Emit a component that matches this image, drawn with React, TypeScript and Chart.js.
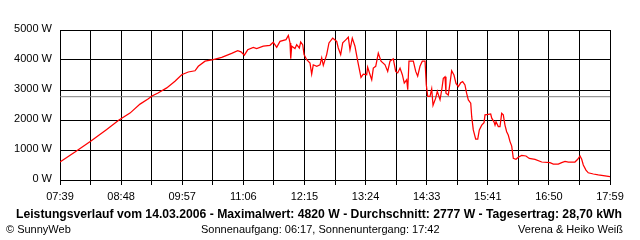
import { useEffect, useRef } from "react";
import { Chart, registerables } from "chart.js";

Chart.register(...registerables);

// Time axis: minutes after 07:39, spanning to 17:59
const spanMinutes = 620;
const gridDivisions = 18;
const tickLabels = ["07:39", "08:48", "09:57", "11:06", "12:15", "13:24", "14:33", "15:41", "16:50", "17:59"];

const minutes = [
  0, 16.9, 34.9, 51.9, 66.5, 78.9, 90.2, 99.2, 103.7, 110.5,
  120.3, 129.6, 137.2, 144.6, 152.2, 155.9, 163.5, 172.8, 182.3, 193.5,
  200.3, 204, 207.8, 211.6, 217.9, 221.7, 229.2, 236.7, 240.4, 244.3,
  248, 254.8, 257.4, 259.3, 260.1, 261.2, 264.9, 266.8, 269.8, 271.3,
  273.6, 275.1, 278.1, 281.8, 283.7, 285.5, 289.4, 293.1, 295, 296.8,
  300.6, 303.2, 307.4, 311.9, 313.7, 316.4, 318.7, 322.4, 325, 326.9,
  329.5, 332.5, 335.6, 339.3, 341.9, 345.7, 346.8, 349.5, 351.4, 353.2,
  355.9, 358.8, 361.9, 366.4, 369.4, 372, 375.7, 378.4, 380.7, 383.3,
  385.9, 388.1, 390.8, 392, 393.4, 398.3, 401, 403.2, 405.8, 408.4,
  411.5, 412.9, 414.5, 417.1, 419, 420.5, 423.5, 425.3, 428.4, 430.3,
  432.1, 434, 435.1, 437.7, 439.6, 441.5, 444.1, 446.4, 449, 451.7,
  453.9, 456.5, 458.4, 460.3, 463, 464.1, 465.9, 468.6, 470.9, 472.7,
  475.4, 478, 479.1, 482.8, 485.5, 486.7, 489.2, 490.4, 491.5, 494.1,
  496, 497.9, 499.7, 501.6, 503.5, 505.3, 507.3, 509.2, 511, 514,
  516.6, 520.4, 525.3, 529, 535.5, 543, 552.4, 556.1, 561.7, 565.5,
  569.3, 573, 580.5, 583.6, 586.2, 588.1, 589.9, 592.9, 595.5, 601.2,
  606.8, 614.4, 620,
];

const watts = [
  600, 930, 1300, 1670, 2000, 2230, 2530, 2700, 2800, 2900,
  3070, 3290, 3510, 3600, 3640, 3790, 3960, 4010, 4090, 4220,
  4310, 4270, 4160, 4340, 4420, 4380, 4460, 4490, 4590, 4420,
  4620, 4680, 4820, 4570, 4040, 4460, 4380, 4510, 4400, 4600,
  4510, 4180, 4010, 3900, 3530, 3840, 3790, 3840, 4070, 3820,
  4180, 4570, 4730, 4620, 4400, 4180, 4570, 4680, 4760, 4340,
  4730, 4460, 3960, 3420, 3530, 3510, 3760, 3510, 3340, 3730,
  3790, 4230, 3960, 3840, 3620, 3960, 4040, 3620, 3570, 3730,
  3510, 3230, 3340, 3010, 3960, 3960, 3620, 3460, 3790, 3960,
  3960, 3180, 2790, 2790, 3040, 2490, 2730, 2960, 2680, 3000,
  3390, 3440, 2890, 2830, 3220, 3640, 3500, 3220, 3110, 3240,
  3280, 3170, 2890, 2670, 2560, 2110, 1670, 1360, 1360, 1670,
  1830, 1910, 2170, 2190, 2200, 2060, 1940, 1830, 1940, 1780,
  1780, 2220, 2170, 1830, 1610, 1500, 1280, 1130, 720, 690,
  760, 820, 800, 720, 690, 600, 580, 530, 530, 580,
  620, 600, 600, 690, 800, 690, 500, 330, 240, 200,
  170, 140, 110,
];

const averageW = 2777;
const yMax = 5000;
const yStep = 1000;

const titleText =
  "Leistungsverlauf vom 14.03.2006 - Maximalwert: 4820 W - Durchschnitt: 2777 W - Tagesertrag: 28,70 kWh";
const footerLeft = "\u00A9 SunnyWeb";
const footerCenter = "Sonnenaufgang: 06:17, Sonnenuntergang: 17:42";
const footerRight = "Verena & Heiko Wei\u00DF";

const FONT = '"Liberation Sans", Arial, sans-serif';

const footerPlugin = {
  id: "footerTexts",
  afterDraw(chart: any) {
    const ctx = chart.ctx as CanvasRenderingContext2D;
    ctx.save();
    ctx.fillStyle = "#000";
    ctx.textBaseline = "alphabetic";
    ctx.textAlign = "left";
    ctx.font = `bold 11px ${FONT}`;
    const w = ctx.measureText(titleText).width;
    const size = (11 * 607) / w;
    ctx.font = `bold ${size}px ${FONT}`;
    ctx.fillText(titleText, 16, 218);
    ctx.font = `11px ${FONT}`;
    ctx.fillText(footerLeft, 6, 233);
    ctx.fillText(footerCenter, 201, 233);
    ctx.textAlign = "right";
    ctx.fillText(footerRight, 623, 233);
    ctx.restore();
  },
};

export default function App() {
  const ref = useRef<HTMLCanvasElement | null>(null);

  useEffect(() => {
    document.body.style.margin = "0";
    const canvas = ref.current;
    if (!canvas) return;
    const points = minutes.map((m, i) => ({ x: m, y: watts[i] }));
    const avgPoints = [
      { x: 0, y: averageW },
      { x: spanMinutes, y: averageW },
    ];
    const chart = new Chart(canvas, {
      type: "line",
      data: {
        datasets: [
          {
            data: points,
            borderColor: "#ff0000",
            borderWidth: 1.25,
            pointRadius: 0,
            tension: 0,
            fill: false,
            order: 0,
          },
          {
            data: avgPoints,
            borderColor: "#808080",
            borderWidth: 1,
            pointRadius: 0,
            fill: false,
            order: 1,
          },
        ],
      },
      options: {
        responsive: false,
        animation: false,
        events: [],
        layout: { padding: { top: 30, right: 30, left: 0, bottom: 0 } },
        plugins: {
          legend: { display: false },
          tooltip: { enabled: false },
          title: { display: false },
        },
        scales: {
          x: {
            type: "linear",
            min: 0,
            max: spanMinutes,
            afterBuildTicks: (scale: any) => {
              const arr = [];
              for (let i = 0; i <= gridDivisions; i++) arr.push({ value: (i * spanMinutes) / gridDivisions });
              scale.ticks = arr;
            },
            afterFit: (scale: any) => {
              scale.height = 60;
            },
            grid: {
              color: "#000",
              lineWidth: 1,
              drawTicks: true,
              tickLength: 5,
              tickColor: "#000",
            },
            border: { color: "#000", width: 1 },
            ticks: {
              autoSkip: false,
              maxRotation: 0,
              minRotation: 0,
              padding: 5,
              color: "#000",
              font: { family: FONT, size: 11 },
              callback: (_v: any, index: number) => (index % 2 === 0 ? tickLabels[index / 2] : ""),
            },
          },
          y: {
            min: 0,
            max: yMax,
            afterFit: (scale: any) => {
              scale.width = 60;
            },
            grid: { color: "#000", lineWidth: 1, drawTicks: false },
            border: { color: "#000", width: 1 },
            ticks: {
              stepSize: yStep,
              padding: 8,
              labelOffset: -1.5,
              color: "#000",
              font: { family: FONT, size: 11 },
              callback: (v: any) => `${v} W`,
            },
          },
        },
      },
      plugins: [footerPlugin],
    });
    return () => chart.destroy();
  }, []);

  return (
    <div style={{ width: 640, height: 240, background: "#fff" }}>
      <canvas ref={ref} width={640} height={240} />
    </div>
  );
}
